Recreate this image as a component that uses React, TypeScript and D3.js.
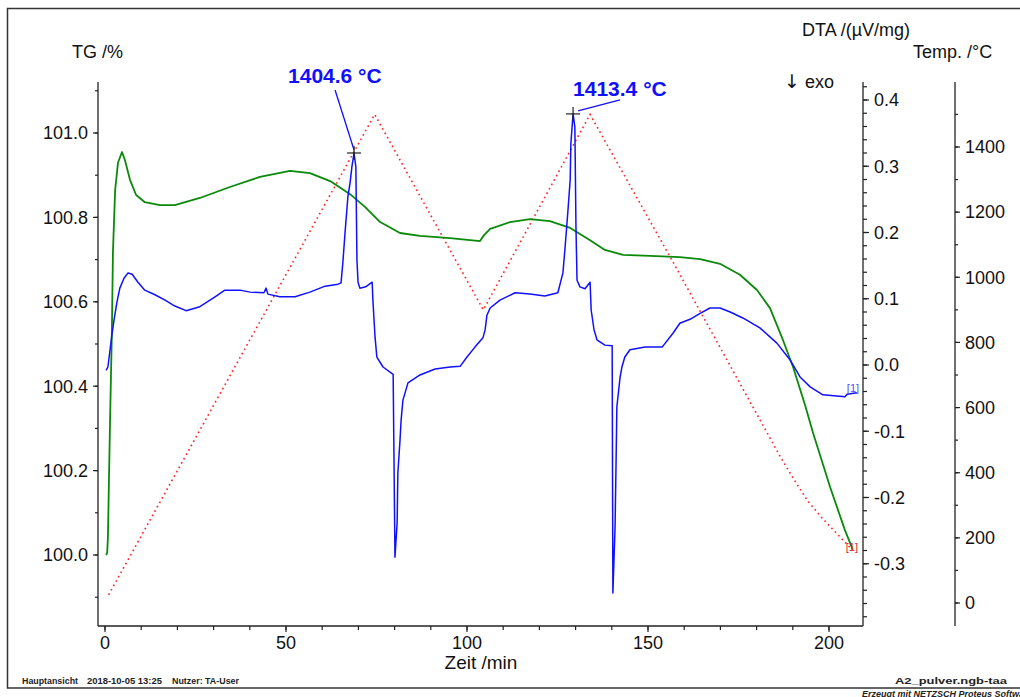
import React from 'react';
import * as d3 from 'd3';

// axis ticks
const timeTicks = [0, 50, 100, 150, 200];
const tgTicks = [100.0, 100.2, 100.4, 100.6, 100.8, 101.0];
const dtaTicks = [-0.3, -0.2, -0.1, 0.0, 0.1, 0.2, 0.3, 0.4];
const tempTicks = [0, 200, 400, 600, 800, 1000, 1200, 1400];

// [Zeit /min, TG /%]
const tgData: [number, number][] = [
  [0.3, 100.0], [0.6, 100.005], [0.8, 100.04], [1.4, 100.32], [1.9, 100.53], [2.2, 100.72],
  [2.8, 100.865], [3.6, 100.93], [4.7, 100.955], [5.5, 100.936], [6.9, 100.889], [8.6, 100.853],
  [11.0, 100.836], [15.2, 100.829], [19.3, 100.829], [26.2, 100.846], [34.5, 100.872],
  [42.8, 100.896], [51.1, 100.91], [56.6, 100.905], [62.2, 100.886], [67.7, 100.855],
  [71.8, 100.825], [76.0, 100.789], [81.5, 100.763], [87.0, 100.756], [95.3, 100.751],
  [103.6, 100.744], [104.7, 100.758], [106.4, 100.773], [111.9, 100.789], [117.4, 100.796],
  [122.9, 100.791], [128.5, 100.775], [134.0, 100.746], [138.1, 100.723], [143.1, 100.711],
  [150.6, 100.709], [158.8, 100.706], [164.4, 100.701], [169.9, 100.69], [175.4, 100.664],
  [180.1, 100.628], [183.7, 100.585], [187.3, 100.509], [190.1, 100.445], [193.4, 100.355],
  [195.6, 100.289], [200.3, 100.161], [204.4, 100.059], [206.6, 100.012],
];

// [Zeit /min, DTA /(µV/mg)]
const dtaData: [number, number][] = [
  [0.3, -0.008], [0.8, -0.003], [1.4, 0.023], [1.9, 0.045], [2.5, 0.068], [3.3, 0.095],
  [4.1, 0.116], [5.25, 0.131], [6.35, 0.139], [7.5, 0.137], [9.1, 0.125], [11.0, 0.113],
  [13.8, 0.106], [16.6, 0.098], [19.3, 0.089], [22.4, 0.082], [26.2, 0.088], [30.4, 0.103],
  [33.1, 0.113], [37.3, 0.113], [40.1, 0.11], [43.9, 0.109], [44.5, 0.116], [45.0, 0.107],
  [48.3, 0.103], [52.5, 0.103], [56.6, 0.11], [60.8, 0.119], [64.4, 0.122], [65.2, 0.124],
  [65.7, 0.154], [66.3, 0.199], [67.1, 0.254], [67.7, 0.275], [68.2, 0.299], [68.8, 0.32],
  [69.3, 0.299], [69.6, 0.158], [69.9, 0.125], [70.4, 0.116], [72.0, 0.118], [73.8, 0.125],
  [74.0, 0.098], [74.6, 0.042], [75.1, 0.012], [76.8, -0.003], [79.6, -0.014], [80.1, -0.29],
  [80.7, -0.238], [80.9, -0.163], [81.5, -0.113], [81.8, -0.083], [82.3, -0.053],
  [83.7, -0.027], [87.0, -0.015], [91.2, -0.006], [95.3, -0.003], [98.1, -0.002],
  [100.0, 0.012], [102.2, 0.027], [104.4, 0.041], [105.0, 0.053], [105.5, 0.075],
  [106.4, 0.086], [109.1, 0.098], [113.3, 0.109], [117.4, 0.107], [121.5, 0.104],
  [125.1, 0.109], [126.5, 0.139], [127.1, 0.178], [127.9, 0.234], [128.5, 0.279],
  [128.7, 0.335], [129.3, 0.379], [129.8, 0.359], [130.1, 0.208], [130.4, 0.128],
  [131.2, 0.118], [132.6, 0.115], [134.0, 0.125], [134.3, 0.083], [135.1, 0.053],
  [135.9, 0.038], [138.1, 0.03], [140.1, 0.029], [140.3, -0.344], [140.9, -0.245],
  [141.2, -0.139], [141.4, -0.063], [142.3, -0.018], [142.8, -0.003], [143.6, 0.012],
  [145.0, 0.023], [149.2, 0.027], [153.9, 0.027], [156.9, 0.048], [158.8, 0.063],
  [161.6, 0.069], [164.4, 0.078], [167.1, 0.086], [169.9, 0.086], [172.7, 0.08],
  [176.2, 0.071], [180.9, 0.056], [185.6, 0.033], [189.2, 0.008], [192.0, -0.018],
  [194.8, -0.033], [198.3, -0.045], [204.4, -0.048], [205.0, -0.044], [207.7, -0.042],
];

// [Zeit /min, Temp. /°C]
const tempData: [number, number][] = [
  [1.0, 25], [74.5, 1500], [104.5, 900], [134.0, 1500], [157.0, 1045], [186.5, 450],
  [190.0, 385], [194.0, 315], [198.0, 262], [202.0, 215], [206.0, 168],
];

const peaks = [
  { t: 68.8, dta: 0.32, label: '1404.6 °C', tx: -66, ty: -70, lx1: -19, ly1: -63, lx2: 0, ly2: -3 },
  { t: 129.3, dta: 0.379, label: '1413.4 °C', tx: 0, ty: -18, lx1: 5, ly1: -3, lx2: 47, ly2: -14 },
];

const FONT = '"Liberation Sans", Arial, sans-serif';
const L = 98, R = 863, T = 82, B = 626;
const TEMP_X = 955;

const x = d3.scaleLinear().domain([0, 200]).range([105, 829]);
const yTG = d3.scaleLinear().domain([100, 101]).range([555, 133]);
const yDTA = d3.scaleLinear().domain([0, 0.4]).range([365, 100]);
const yTemp = d3.scaleLinear().domain([0, 1400]).range([603, 147]);

const inside = (y: number) => y >= T - 0.5 && y <= B + 0.5;

export default function App() {
  const tgLine = d3.line<[number, number]>().x(d => x(d[0])).y(d => yTG(d[1]));
  const dtaLine = d3.line<[number, number]>().x(d => x(d[0])).y(d => yDTA(d[1]));
  const tempLine = d3.line<[number, number]>().x(d => x(d[0])).y(d => yTemp(d[1]));

  const timeMinor = d3.range(0, 201, 10);
  const tgMinor = d3.range(99.9, 101.15, 0.1).filter(v => inside(yTG(v)));
  const dtaMinor = d3.range(-0.38, 0.43, 0.02).filter(v => inside(yDTA(v)));
  const tempMinor = d3.range(0, 1501, 100).filter(v => inside(yTemp(v)));

  const axisColor = '#222';
  const dtaEnd = dtaData[dtaData.length - 1];
  const tempEnd = tempData[tempData.length - 1];

  return (
    <svg width={1020} height={697} style={{ position: 'absolute', left: 0, top: 0, background: '#fff' }}
      fontFamily={FONT}>
      <rect x={7.5} y={8.5} width={1100} height={679.5} fill="none" stroke="#333" strokeWidth={1.5} />

      {/* axis titles */}
      <text x={72} y={58} fontSize={18} fill="#111">TG /%</text>
      <text x={802} y={36} fontSize={18} fill="#111">DTA /(µV/mg)</text>
      <text x={913} y={58} fontSize={18} fill="#111">Temp. /°C</text>
      <text x={784} y={88} fontSize={18} fill="#111">
        <tspan fontFamily='"DejaVu Sans", sans-serif' fontSize={19}>↓</tspan> exo
      </text>
      <text x={481} y={669} fontSize={19} fill="#111" textAnchor="middle">Zeit /min</text>

      {/* time axis */}
      <line x1={L} x2={R} y1={B} y2={B} stroke={axisColor} strokeWidth={1.3} />
      {timeMinor.map(v => (
        <line key={'tm' + v} x1={x(v)} x2={x(v)} y1={B} y2={B + 4} stroke={axisColor} strokeWidth={1.2} />
      ))}
      {timeTicks.map(v => (
        <g key={'t' + v}>
          <line x1={x(v)} x2={x(v)} y1={B} y2={B + 6} stroke={axisColor} strokeWidth={1.2} />
          <text x={x(v)} y={649} fontSize={18} textAnchor="middle" fill="#111">{v}</text>
        </g>
      ))}

      {/* TG axis */}
      <line x1={L} x2={L} y1={T} y2={B} stroke={axisColor} strokeWidth={1.3} />
      {tgMinor.map(v => (
        <line key={'gm' + v} x1={L - 3} x2={L} y1={yTG(v)} y2={yTG(v)} stroke={axisColor} strokeWidth={1.2} />
      ))}
      {tgTicks.map(v => (
        <g key={'g' + v}>
          <line x1={L - 5} x2={L} y1={yTG(v)} y2={yTG(v)} stroke={axisColor} strokeWidth={1.2} />
          <text x={88} y={yTG(v)} dy="0.35em" fontSize={18} textAnchor="end" fill="#111">{v.toFixed(1)}</text>
        </g>
      ))}

      {/* DTA axis */}
      <line x1={R} x2={R} y1={T} y2={B} stroke={axisColor} strokeWidth={1.3} />
      {dtaMinor.map(v => (
        <line key={'dm' + v} x1={R} x2={R + 4} y1={yDTA(v)} y2={yDTA(v)} stroke={axisColor} strokeWidth={1.2} />
      ))}
      {dtaTicks.map(v => (
        <g key={'d' + v}>
          <line x1={R} x2={R + 6} y1={yDTA(v)} y2={yDTA(v)} stroke={axisColor} strokeWidth={1.2} />
          <text x={874} y={yDTA(v)} dy="0.35em" fontSize={18} fill="#111">{v.toFixed(1)}</text>
        </g>
      ))}

      {/* Temp axis */}
      <line x1={TEMP_X} x2={TEMP_X} y1={T} y2={B} stroke={axisColor} strokeWidth={1.3} />
      {tempMinor.map(v => (
        <line key={'pm' + v} x1={TEMP_X} x2={TEMP_X + 3} y1={yTemp(v)} y2={yTemp(v)} stroke={axisColor} strokeWidth={1.2} />
      ))}
      {tempTicks.map(v => (
        <g key={'p' + v}>
          <line x1={TEMP_X} x2={TEMP_X + 5} y1={yTemp(v)} y2={yTemp(v)} stroke={axisColor} strokeWidth={1.2} />
          <text x={965} y={yTemp(v)} dy="0.35em" fontSize={18} fill="#111">{v}</text>
        </g>
      ))}

      {/* curves */}
      <path d={tempLine(tempData) || ''} fill="none" stroke="#ff2020" strokeWidth={1.6} strokeDasharray="1.6 3.4" />
      <path d={tgLine(tgData) || ''} fill="none" stroke="#0a8a0a" strokeWidth={1.8} strokeLinejoin="round" />
      <path d={dtaLine(dtaData) || ''} fill="none" stroke="#1010ff" strokeWidth={1.5} strokeLinejoin="round" />

      {/* curve end markers */}
      <text x={x(dtaEnd[0]) - 10} y={yDTA(dtaEnd[1]) - 1} fontSize={11} fill="#5050ff">[1]</text>
      <text x={x(tempEnd[0]) - 5} y={yTemp(tempEnd[1]) + 3} fontSize={11} fill="#e02020">[1]</text>

      {/* peak annotations */}
      {peaks.map(p => {
        const cx = x(p.t);
        const cy = yDTA(p.dta);
        return (
          <g key={p.label}>
            <line x1={cx + p.lx1} y1={cy + p.ly1} x2={cx + p.lx2} y2={cy + p.ly2} stroke="#1010ff" strokeWidth={1.3} />
            <line x1={cx - 7} x2={cx + 7} y1={cy} y2={cy} stroke="#222" strokeWidth={1.2} />
            <line x1={cx} x2={cx} y1={cy - 7} y2={cy + 7} stroke="#222" strokeWidth={1.2} />
            <text x={cx + p.tx} y={cy + p.ty} fontSize={21} fontWeight="bold" fill="#1010ff">{p.label}</text>
          </g>
        );
      })}

      {/* footer */}
      <g fontSize={9} fontWeight="bold" fill="#222">
        <text x={22} y={684} textLength={56} lengthAdjust="spacingAndGlyphs">Hauptansicht</text>
        <text x={87} y={684} textLength={75} lengthAdjust="spacingAndGlyphs">2018-10-05 13:25</text>
        <text x={172} y={684} textLength={67} lengthAdjust="spacingAndGlyphs">Nutzer: TA-User</text>
        <text x={895} y={684} textLength={112} lengthAdjust="spacingAndGlyphs">A2_pulver.ngb-taa</text>
        <text x={862} y={697} fontStyle="italic">Erzeugt mit NETZSCH Proteus Software</text>
      </g>
    </svg>
  );
}
